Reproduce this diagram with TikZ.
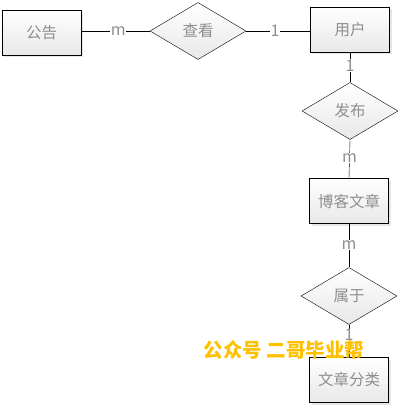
\documentclass[tikz,border=0pt]{standalone}
\usepackage{fontspec}
\setmainfont{Noto Sans CJK SC}
\usetikzlibrary{shapes.geometric,shadows}
\definecolor{txtgray}{HTML}{8E8E8E}
\definecolor{markyellow}{HTML}{FFC000}
\begin{document}
\begin{tikzpicture}[x=1pt,y=-1pt,
    entity/.style={draw, thin, top color=white, bottom color=black!9,
        minimum width=79pt, minimum height=45pt, text=txtgray,
        font=\fontsize{15.5}{17}\selectfont,
        drop shadow={shadow xshift=2pt, shadow yshift=-2pt, opacity=0.2}},
    relation/.style={draw, thin, diamond, top color=white, bottom color=black!9,
        minimum width=96pt, minimum height=57pt, inner sep=0pt, text=txtgray,
        font=\fontsize{15.5}{17}\selectfont},
    card/.style={fill=white, inner sep=0.6pt, text=txtgray,
        font=\fontsize{16}{17}\selectfont}]
    \useasboundingbox (0,0) rectangle (401,407);
    \node[entity] (gonggao) at (41.5,32.5) {公告};
    \node[relation] (chakan) at (198,31) {查看};
    \node[entity] (yonghu) at (350,29.5) {用户};
    \node[relation] (fabu) at (350,111) {发布};
    \node[entity] (wenzhang) at (349,201) {博客文章};
    \node[relation] (shuyu) at (349,296) {属于};
    \node[entity] (fenlei) at (349,380) {文章分类};
    \draw (gonggao.east |- chakan.west) -- node[card, pos=0.54] {m} (chakan.west);
    \draw (chakan.east) -- node[card, pos=0.45] {1} (chakan.east -| yonghu.west);
    \draw (yonghu.south) -- node[card, pos=0.45] {1} (fabu.north);
    \draw (fabu.south) -- node[card, pos=0.48] {m} (wenzhang.north);
    \draw (wenzhang.south) -- node[card, pos=0.49] {m} (shuyu.north);
    \draw (shuyu.south) -- node[card, pos=0.32] {1} (fenlei.north);
    \node[text=markyellow, font=\fontsize{19.5}{21}\selectfont\bfseries] (mark) at (284,350) {公众号 二哥毕业帮};
\end{tikzpicture}
\end{document}
